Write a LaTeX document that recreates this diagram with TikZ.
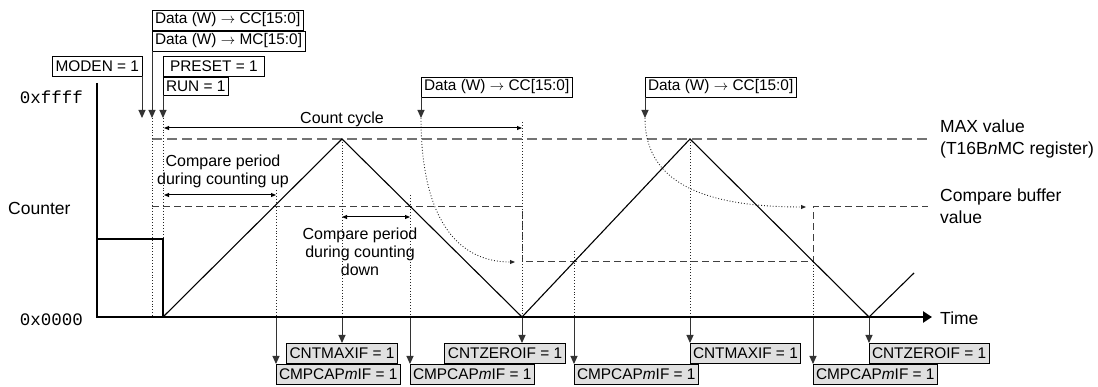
\documentclass[tikz,border=0pt]{standalone}
\usepackage{fontspec}
\setmainfont{Liberation Sans}
\setmonofont{Liberation Mono}
\usetikzlibrary{arrows.meta,positioning,calc}

\newcommand\lblfont{\fontsize{17.5}{22}\selectfont}
\newcommand\notefont{\fontsize{16}{18}\selectfont}
\newcommand\regfont{\fontsize{15.4}{18}\selectfont}

\begin{document}
\begin{tikzpicture}[x=1pt, y=-1pt,
    box/.style={draw, line width=0.9pt, outer sep=0pt, inner xsep=3pt, inner ysep=0pt, minimum height=20pt, font=\regfont},
    flag/.style={box, fill=black!12},
    lbl/.style={font=\lblfont, inner sep=0pt, align=left},
    note/.style={font=\notefont, inner sep=0pt, align=center},
    tip/.style={-{Triangle[length=8pt,width=7pt]}, line width=1pt, draw=black!80},
    both/.style={{Triangle[length=5pt,width=4pt]}-{Triangle[length=5pt,width=4pt]}, line width=1pt},
    guide/.style={dotted, line width=0.9pt, draw=black!85},
    maxline/.style={dash pattern=on 10pt off 5pt, line width=1.6pt, draw=black!55},
    cmpline/.style={dash pattern=on 7pt off 4pt, line width=1pt, draw=black!75},
    wave/.style={line width=1.1pt},
    axis/.style={line width=2.5pt}
]
    \useasboundingbox (0,0) rectangle (1098,387);

    % key points of the counter
    \coordinate (o) at (97,317);
    \coordinate (ytop) at (97,83);
    \coordinate (xend) at (932,317);
    \coordinate (st) at (0,118);
    \coordinate (init0) at (97,239);
    \coordinate (init) at (163,239);
    \coordinate (z0) at (163,317);
    \coordinate (p1) at (342,139);
    \coordinate (z1) at (522,317);
    \coordinate (p2) at (690,139);
    \coordinate (z2) at (869,317);
    \coordinate (wend) at (914,273);
    \coordinate (m1) at (276,207);
    \coordinate (m2) at (410,207);
    \coordinate (m3) at (574,262);
    \coordinate (m4) at (813,262);
    \coordinate (maxend) at (928,139);
    \coordinate (cbend) at (928,207);
    \coordinate (cyc0) at (164,128);
    \coordinate (cyc1) at (522,128);
    \coordinate (up0) at (164,195);
    \coordinate (dn0) at (342,217);
    \coordinate (cbA) at (515,262);
    \coordinate (cbB) at (806,207);

    \node[lbl, font=\lblfont\ttfamily, anchor=east] (ffff) at (83,97) {0xffff};
    \node[lbl, font=\lblfont\ttfamily, anchor=east] (zero) at (83,320) {0x0000};
    \node[lbl, anchor=west] (counter) at (8,208) {Counter};
    \node[lbl, anchor=west] (time) at (940,318) {Time};
    \node[lbl, anchor=west] (maxlbl) at (940,139) {MAX value\\(T16B\textit{n}MC register)};
    \node[lbl, anchor=west] (cmplbl) at (940,206) {Compare buffer\\value};

    \node[box, anchor=north west] (ccA) at (152,10) {Data (W) $\rightarrow$ CC[15:0]};
    \node[box, anchor=north west] (mcA) at (152,31) {Data (W) $\rightarrow$ MC[15:0]};
    \node[box, anchor=north east] (moden) at (142,56) {MODEN = 1};
    \node[box, anchor=north west, inner xsep=7pt] (preset) at (163,56) {PRESET = 1};
    \node[box, anchor=north west, minimum height=18pt] (run) at (163,77) {RUN = 1};
    \node[box, anchor=north west] (ccB) at (421,77) {Data (W) $\rightarrow$ CC[15:0]};
    \node[box, anchor=north west] (ccC) at (645,77) {Data (W) $\rightarrow$ CC[15:0]};

    \node[note] (cyc) at (342,119) {Count cycle};
    \node[note] (upnote) at (223,171) {Compare period\\during counting up};
    \node[note] (dnnote) at (360,252) {Compare period\\during counting\\down};

    \node[flag, anchor=north] (fmax1) at (342,343) {CNTMAXIF = 1};
    \node[flag, anchor=north west] (fcmp1) at (276,364) {CMPCAP\textit{m}IF = 1};
    \node[flag, anchor=north] (fzero1) at (505,343) {CNTZEROIF = 1};
    \node[flag, anchor=north west] (fcmp2) at (410,364) {CMPCAP\textit{m}IF = 1};
    \node[flag, anchor=north west] (fcmp3) at (574,364) {CMPCAP\textit{m}IF = 1};
    \node[flag, anchor=north west] (fmax2) at (690,343) {CNTMAXIF = 1};
    \node[flag, anchor=north west] (fcmp4) at (813,364) {CMPCAP\textit{m}IF = 1};
    \node[flag, anchor=north west] (fzero2) at (869,343) {CNTZEROIF = 1};

    % register writes
    \draw[tip] (moden.south east) -- (moden.south east |- st);
    \draw[tip] (mcA.south west) -- (mcA.south west |- st);
    \draw[tip] (run.south west) -- (run.south west |- st);
    \draw[tip] (ccB.south west) -- (ccB.south west |- st);
    \draw[tip] (ccC.south west) -- (ccC.south west |- st);

    % MAX and compare buffer levels
    \draw[maxline] (p1 -| mcA.south west) -- (maxend);
    \draw[cmpline] (m1 -| mcA.south west) -- (m1 -| z1) -- (m3 -| z1) -- (m4) -- (m4 |- m1) -- (cbend);

    \draw[guide] (mcA.south west |- st) -- (mcA.south west |- o);
    \draw[guide] (run.south west |- st) -- (init);
    \draw[guide] ($(cyc1)+(0,-6)$) -- (z1);
    \draw[guide] ($(m1)+(0,-17)$) -- (m1 |- o);
    \draw[guide] ($(m2)+(0,-12)$) -- (m2 |- o);
    \draw[guide] ($(m3)+(0,-11)$) -- (m3 |- o);
    \draw[guide] (m4) -- (m4 |- o);
    \draw[guide] (p1) -- (p1 |- o);
    \draw[guide] (p2) -- (p2 |- o);
    \draw[guide, -{Triangle[length=5pt,width=4pt]}] (ccB.south west |- st) .. controls (421,215) and (455,262) .. (cbA);
    \draw[guide, -{Triangle[length=5pt,width=4pt]}] (ccC.south west |- st) .. controls (645,175) and (690,207) .. (cbB);

    \draw[both] (cyc0) -- (cyc1);
    \draw[both] (up0) -- (up0 -| m1);
    \draw[both] (dn0) -- (dn0 -| m2);

    \draw[wave] (init0) -- (init) -- (z0);
    \draw[wave] (z0) -- (p1) -- (z1) -- (p2) -- (z2) -- (wend);

    % interrupt flags
    \draw[tip] (p1 |- o) -- (fmax1.north);
    \draw[tip] (m1 |- o) -- (fcmp1.north west);
    \draw[tip] (z1) -- (z1 |- fzero1.north);
    \draw[tip] (m2 |- o) -- (fcmp2.north west);
    \draw[tip] (m3 |- o) -- (fcmp3.north west);
    \draw[tip] (p2 |- o) -- (fmax2.north west);
    \draw[tip] (m4 |- o) -- (fcmp4.north west);
    \draw[tip] (z2) -- (fzero2.north west);

    \draw[axis, -{Triangle[length=9pt,width=11pt]}] (ytop) -- (o) -- (xend);
\end{tikzpicture}
\end{document}
